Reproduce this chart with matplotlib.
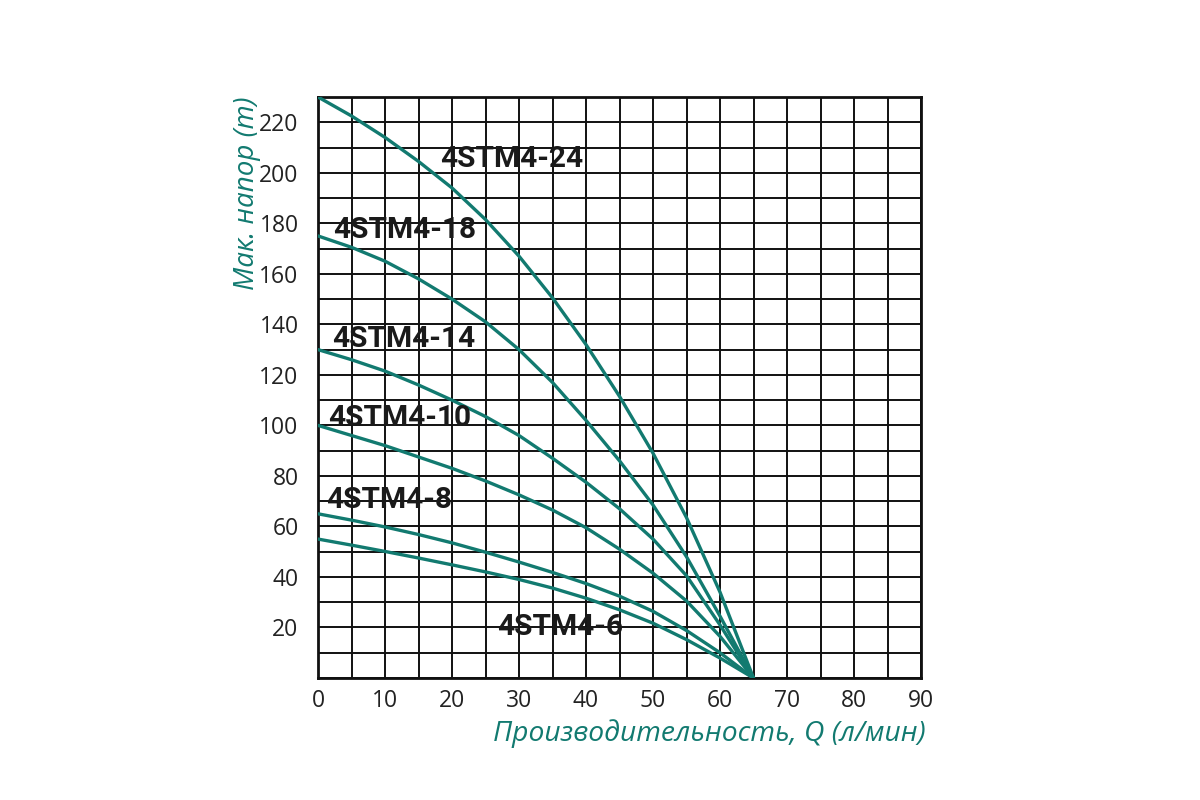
import matplotlib
matplotlib.use("Agg")
import matplotlib.pyplot as plt
import numpy as np

# ---- data ----
flow = [0, 5, 10, 15, 20, 25, 30, 35, 40, 45, 50, 55, 60, 65]
head_24 = [230, 222.5, 214, 204.5, 194, 181.5, 167, 150.5, 132, 111.5, 89, 63.5, 34, 0]
head_18 = [175, 170.5, 165, 158, 150, 141, 130, 117, 102, 86, 68.5, 48, 24.5, 0]
head_14 = [130, 126, 121.5, 116, 110, 103.5, 96, 87, 77.5, 67, 55, 40.5, 21, 0]
head_10 = [100, 96, 92, 87.5, 83, 78, 72.5, 66.5, 59.5, 51, 41.5, 30.5, 16.5, 0]
head_8 = [65, 62.5, 59.8, 56.8, 53.5, 49.8, 45.9, 41.8, 37.4, 32.4, 26.4, 18.8, 10, 0]
head_6 = [55, 52.6, 50.1, 47.5, 44.8, 42, 39, 35.6, 31.6, 27, 21.7, 15.2, 7.9, 0]

series = [head_24, head_18, head_14, head_10, head_8, head_6]
names = ["4STM4-24", "4STM4-18", "4STM4-14", "4STM4-10", "4STM4-8", "4STM4-6"]
label_pos = [(18.2, 205.3), (2.2, 177.5), (2.1, 134.2), (1.5, 102.8), (1.2, 70.3), (26.7, 20.2)]

x_ticks = [0, 10, 20, 30, 40, 50, 60, 70, 80, 90]
y_ticks = [20, 40, 60, 80, 100, 120, 140, 160, 180, 200, 220]

teal = "#127a70"

fig = plt.figure(figsize=(12, 8), dpi=100)
ax = fig.add_axes([0.265, 0.1525, 0.5025, 0.72625])

ax.set_xlim(0, 90)
ax.set_ylim(0, 230)

ax.set_xticks(x_ticks)
ax.set_xticks(np.arange(0, 91, 5), minor=True)
ax.set_yticks(y_ticks)
ax.set_yticks(np.arange(0, 231, 10), minor=True)
ax.grid(True, which="both", color="#111111", linewidth=1.4)
ax.set_axisbelow(True)
ax.tick_params(which="both", length=0)
ax.tick_params(axis="x", pad=8)
ax.tick_params(axis="y", pad=14)
for lab in ax.get_xticklabels() + ax.get_yticklabels():
    lab.set_fontfamily("Open Sans")
    lab.set_fontsize(16.5)
    lab.set_color("#222222")

for s in ax.spines.values():
    s.set_linewidth(2.0)
    s.set_color("#111111")

for vals in series:
    ax.plot(flow, vals, color=teal, linewidth=2.4, solid_capstyle="round",
            solid_joinstyle="round", zorder=3)

for name, (tx, ty) in zip(names, label_pos):
    ax.text(tx, ty, name, fontsize=21.5, fontweight="bold", family="Roboto",
            color="#1a1a1a", ha="left", va="center", zorder=4)

ax.set_xlabel("Производительность, Q (л/мин)", fontsize=20.3, fontstyle="italic",
              family="Open Sans", color=teal)
ax.xaxis.set_label_coords(1.007, -0.07)
ax.xaxis.label.set_ha("right")

fig.text(0.206, 0.759, "Мак. напор (m)", rotation=90, fontsize=20, fontstyle="italic",
         family="Open Sans", color=teal, ha="center", va="center")

fig.savefig("out.png", dpi=100, facecolor="white")
